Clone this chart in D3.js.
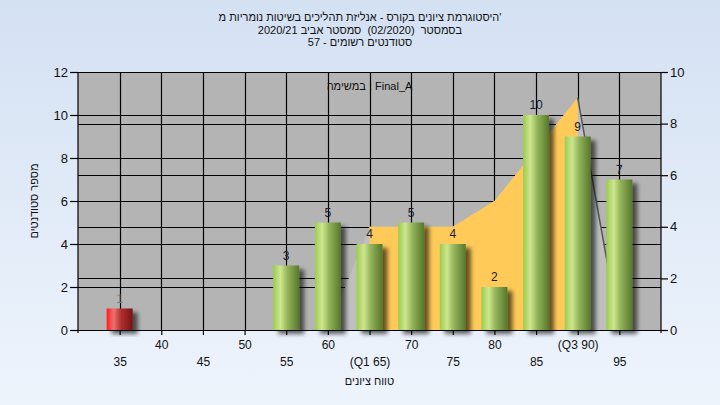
<!DOCTYPE html>
<html>
<head>
<meta charset="utf-8">
<script src="https://cdn.jsdelivr.net/npm/d3@7/dist/d3.min.js"></script>
<style>
  html, body { margin: 0; padding: 0; }
  body { width: 720px; height: 405px; overflow: hidden; }
  text { font-family: "Liberation Sans", Arial, sans-serif; white-space: pre; }
</style>
</head>
<body>
<svg id="chart" width="720" height="405"></svg>
<script>
// ---- data ----
const categories = ["35","40","45","50","55","60","65","70","75","80","85","90","95"];
const tickLabels = ["35","40","45","50","55","60","(Q1 65)","70","75","80","85","(Q3 90)","95"];
const counts = [1,0,0,0,3,5,4,5,4,2,10,9,7];
const areaValues = [null,null,null,null,null,0,4,4,4,5,7,9,0];
const q1Category = "65";
const q3Category = "90";
const passGrade = 55;
const titleLines = [
  "היסטוגרמת ציונים בקורס - אנליזת תהליכים בשיטות נומריות מ'",
  "בסמסטר  (02/2020)  סמסטר אביב 2020/21",
  "סטודנטים רשומים - 57"
];
const innerLabel = "במשימה : Final_A";
const xTitle = "טווח ציונים";
const yTitle = "מספר סטודנטים";
const leftTicks = [0,2,4,6,8,10,12];
const rightTicks = [0,2,4,6,8,10];

// ---- layout ----
const svg = d3.select("#chart");
const L = 78, R = 661, T = 72, B = 330;

const defs = svg.append("defs");
const bg = defs.append("linearGradient").attr("id","bg").attr("x1",0).attr("y1",0).attr("x2",0).attr("y2",1);
bg.append("stop").attr("offset","0%").attr("stop-color","#d4e1f3");
bg.append("stop").attr("offset","100%").attr("stop-color","#eef4fc");

function cyl(id, c0, c1, c2, c3) {
  const g = defs.append("linearGradient").attr("id", id).attr("x1",0).attr("y1",0).attr("x2",1).attr("y2",0);
  g.append("stop").attr("offset","0%").attr("stop-color",c0);
  g.append("stop").attr("offset","28%").attr("stop-color",c1);
  g.append("stop").attr("offset","55%").attr("stop-color",c2);
  g.append("stop").attr("offset","100%").attr("stop-color",c3);
}
cyl("gGreen", "#9ccb4c", "#cde68f", "#93b35a", "#56772b");
cyl("gRed", "#ff1e1e", "#ee7070", "#b03030", "#7a1212");

const f = defs.append("filter").attr("id","shadow").attr("x","-30%").attr("y","-30%").attr("width","180%").attr("height","160%");
f.append("feGaussianBlur").attr("in","SourceAlpha").attr("stdDeviation",2).attr("result","b");
f.append("feOffset").attr("in","b").attr("dx",5).attr("dy",4).attr("result","o");
f.append("feComponentTransfer").attr("in","o").attr("result","s")
  .append("feFuncA").attr("type","linear").attr("slope",0.6);
const m = f.append("feMerge");
m.append("feMergeNode").attr("in","s");
m.append("feMergeNode").attr("in","SourceGraphic");

svg.append("rect").attr("width",720).attr("height",405).attr("fill","url(#bg)");

// scales
const x = d3.scalePoint().domain(categories).range([L, R]).padding(1);
const yL = d3.scaleLinear().domain([0,12]).range([B, T]);
const yR = d3.scaleLinear().domain([0,10]).range([B, T]);

// plot background
svg.append("rect").attr("x",L).attr("y",T).attr("width",R-L).attr("height",B-T).attr("fill","#b4b4b4");

// gridlines
const grid = svg.append("g").attr("stroke","#000").attr("stroke-width",1.2);
leftTicks.forEach(v => grid.append("line").attr("x1",L).attr("x2",R).attr("y1",Math.round(yL(v))+0.5).attr("y2",Math.round(yL(v))+0.5));
rightTicks.forEach(v => grid.append("line").attr("x1",L).attr("x2",R).attr("y1",Math.round(yR(v))+0.5).attr("y2",Math.round(yR(v))+0.5));
categories.forEach(c => grid.append("line").attr("x1",Math.round(x(c))+0.5).attr("x2",Math.round(x(c))+0.5).attr("y1",T).attr("y2",B));

// area series
const pts = categories.map((c,i) => ({c, v: areaValues[i]})).filter(d => d.v !== null);
const area = d3.area().x(d => x(d.c)).y0(yR(0)).y1(d => yR(d.v));
svg.append("path").datum(pts).attr("d", area).attr("fill","#bfbfbf");
const i1 = categories.indexOf(q1Category), i3 = categories.indexOf(q3Category);
const mid = pts.filter(d => categories.indexOf(d.c) >= i1 && categories.indexOf(d.c) <= i3);
svg.append("path").datum(mid).attr("d", area).attr("fill","#ffca58");
const tail = pts.filter(d => categories.indexOf(d.c) >= i3);
svg.append("path").datum(tail).attr("d", d3.line().x(d => x(d.c)).y(d => yR(d.v)))
  .attr("fill","none").attr("stroke","#555").attr("stroke-width",1.5);

// bars
const bw = 26;
const bars = categories.map((c,i) => ({c, v: counts[i]})).filter(d => d.v > 0);
svg.append("g").selectAll("rect").data(bars).join("rect")
  .attr("x", d => x(d.c) - bw/2)
  .attr("y", d => yL(d.v))
  .attr("width", bw)
  .attr("height", d => yL(0) - yL(d.v))
  .attr("fill", d => (+d.c < passGrade) ? "url(#gRed)" : "url(#gGreen)")
  .attr("filter","url(#shadow)");

// value labels
svg.append("g").selectAll("text").data(bars).join("text")
  .attr("x", d => x(d.c))
  .attr("y", d => yL(d.v) - 6)
  .attr("text-anchor","middle")
  .attr("font-size",12)
  .attr("fill", d => (+d.c < passGrade) ? "#6d7f96" : "#1a1a2a")
  .text(d => d.v);

// axes
const axL = svg.append("g").attr("transform",`translate(${L},0)`)
  .call(d3.axisLeft(yL).tickValues(leftTicks).tickSize(8).tickPadding(2));
const axR = svg.append("g").attr("transform",`translate(${R},0)`)
  .call(d3.axisRight(yR).tickValues(rightTicks).tickSize(7).tickPadding(2));
[axL, axR].forEach(a => {
  a.select(".domain").attr("stroke","#000").attr("stroke-width",1.2);
  a.selectAll(".tick line").attr("stroke","#000").attr("stroke-width",1.2);
  a.selectAll(".tick text").attr("font-size",13).attr("fill","#111").attr("font-family","Liberation Sans, Arial, sans-serif");
});
axL.select(".domain").attr("d", `M0,${T}V${B+3}`);
axR.select(".domain").attr("d", `M0,${T}V${B+3}`);

const axB = svg.append("g").attr("transform",`translate(0,${B})`)
  .call(d3.axisBottom(x).tickSize(5).tickSizeOuter(0).tickFormat((d,i) => tickLabels[i]));
axB.select(".domain").attr("stroke","#000").attr("stroke-width",1.2).attr("d", `M${L},0.5H${R}`);
axB.selectAll(".tick line").attr("stroke","#000").attr("stroke-width",1.2);
axB.selectAll(".tick text")
  .attr("font-size",12).attr("fill","#111").attr("font-family","Liberation Sans, Arial, sans-serif")
  .attr("dy",null)
  .attr("y",(d,i) => i % 2 === 1 ? 19 : 36);

// titles
svg.append("g").selectAll("text").data(titleLines).join("text")
  .attr("x",360).attr("y",(d,i) => 21 + i*12.5)
  .attr("text-anchor","middle")
  .attr("font-size",11).attr("fill","#111")
  .text(d => d);

svg.append("text").attr("x",(L+R)/2).attr("y",90)
  .attr("text-anchor","middle")
  .attr("font-size",11).attr("fill","#111").text(innerLabel);

svg.append("text").attr("x",(L+R)/2).attr("y",385)
  .attr("text-anchor","middle")
  .attr("font-size",11).attr("fill","#111").text(xTitle);

svg.append("text").attr("transform","translate(38,201) rotate(-90)")
  .attr("text-anchor","middle")
  .attr("font-size",11).attr("fill","#111").text(yTitle);
</script>
</body>
</html>
